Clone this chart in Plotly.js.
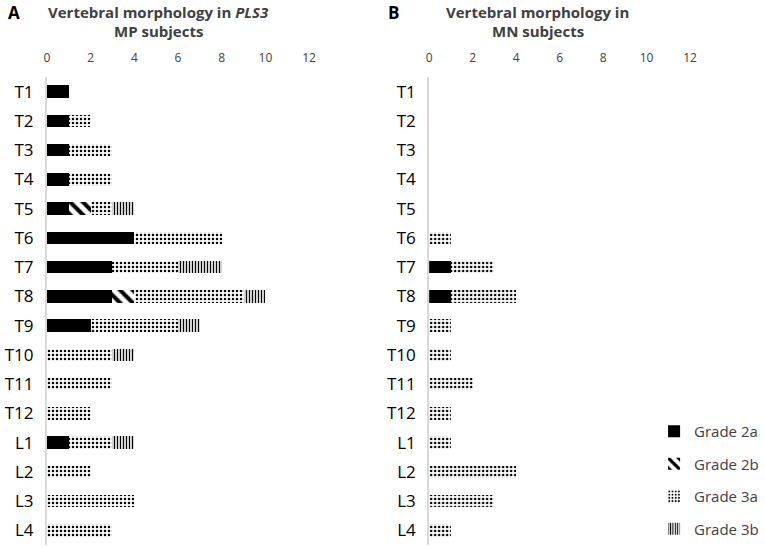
<!DOCTYPE html>
<html>
<head>
<meta charset="utf-8">
<script src="https://cdn.plot.ly/plotly-3.0.1.min.js"></script>
<style>
  html, body { margin: 0; padding: 0; background: #fff; }
  #chart { width: 765px; height: 548px; }
</style>
</head>
<body>
<div id="chart"></div>
<script>
var vertebrae = ['T1', 'T2', 'T3', 'T4', 'T5', 'T6', 'T7', 'T8', 'T9', 'T10', 'T11', 'T12', 'L1', 'L2', 'L3', 'L4'];

// panel A: PLS3 MP subjects
var mp2a = [1, 1, 1, 1, 1, 4, 3, 3, 2, 0, 0, 0, 1, 0, 0, 0];
var mp2b = [0, 0, 0, 0, 1, 0, 0, 1, 0, 0, 0, 0, 0, 0, 0, 0];
var mp3a = [0, 1, 2, 2, 1, 4, 3, 5, 4, 3, 3, 2, 2, 2, 4, 3];
var mp3b = [0, 0, 0, 0, 1, 0, 2, 1, 1, 1, 0, 0, 1, 0, 0, 0];

// panel B: MN subjects
var mn2a = [0, 0, 0, 0, 0, 0, 1, 1, 0, 0, 0, 0, 0, 0, 0, 0];
var mn2b = [0, 0, 0, 0, 0, 0, 0, 0, 0, 0, 0, 0, 0, 0, 0, 0];
var mn3a = [0, 0, 0, 0, 0, 1, 2, 3, 1, 1, 2, 1, 1, 4, 3, 1];
var mn3b = [0, 0, 0, 0, 0, 0, 0, 0, 0, 0, 0, 0, 0, 0, 0, 0];

var gradeNames = ['Grade 2a', 'Grade 2b', 'Grade 3a', 'Grade 3b'];

function gradeMarker(i) {
    if (i == 0) {
        return { color: '#000000', line: { width: 0 } };
    }
    var pat;
    if (i == 1) {
        pat = { shape: '\\', size: 9, solidity: 0.45 };
    } else if (i == 2) {
        pat = { shape: '.', size: 4, solidity: 0.3 };
    } else {
        pat = { shape: '|', size: 3, solidity: 0.45 };
    }
    pat.fgcolor = '#000000';
    pat.bgcolor = '#ffffff';
    pat.fillmode = 'replace';
    return { color: '#ffffff', line: { width: 0 }, pattern: pat };
}

var data = [];
[mp2a, mp2b, mp3a, mp3b].forEach((vals, i) => {
    data.push({
        type: 'bar', orientation: 'h',
        x: vals, y: vertebrae,
        name: gradeNames[i],
        legendgroup: 'g' + i,
        marker: gradeMarker(i),
        xaxis: 'x', yaxis: 'y',
        showlegend: true,
        hoverinfo: 'x+name'
    });
});
[mn2a, mn2b, mn3a, mn3b].forEach((vals, i) => {
    data.push({
        type: 'bar', orientation: 'h',
        x: vals, y: vertebrae,
        name: gradeNames[i],
        legendgroup: 'g' + i,
        marker: gradeMarker(i),
        xaxis: 'x2', yaxis: 'y2',
        showlegend: false,
        hoverinfo: 'x+name'
    });
});

var xAxisBase = {
    range: [0, 12],
    side: 'top',
    dtick: 2,
    showgrid: false,
    zeroline: false,
    showline: false,
    ticks: '',
    ticklabelstandoff: 12,
    tickfont: { size: 12, color: '#404040' },
    fixedrange: true
};
var yAxisBase = {
    type: 'category',
    autorange: 'reversed',
    showgrid: false,
    zeroline: false,
    showline: true,
    linecolor: '#d9d9d9',
    linewidth: 2,
    ticks: '',
    ticklabelstandoff: 8,
    tickfont: { size: 17, color: '#000000' },
    fixedrange: true
};

var titleFont = { family: 'Open Sans, sans-serif', size: 15, color: '#404040' };
var letterFont = { family: 'Open Sans, sans-serif', size: 17, color: '#000000' };

// paper y for a pixel row measured from the top of the picture
function py(px) { return (545 - px) / 468; }

var layout = {
    width: 765,
    height: 548,
    margin: { l: 0, r: 0, t: 77, b: 3, autoexpand: false },
    paper_bgcolor: '#ffffff',
    plot_bgcolor: '#ffffff',
    font: { family: 'Open Sans, sans-serif' },
    barmode: 'stack',
    bargap: 0.58,
    xaxis: Object.assign({}, xAxisBase, { domain: [0.0614, 0.404], anchor: 'y' }),
    yaxis: Object.assign({}, yAxisBase, { anchor: 'x' }),
    xaxis2: Object.assign({}, xAxisBase, { domain: [0.561, 0.902], anchor: 'y2' }),
    yaxis2: Object.assign({}, yAxisBase, { anchor: 'x2' }),
    legend: {
        x: 0.855, y: py(415), xanchor: 'left', yanchor: 'top',
        traceorder: 'grouped',
        font: { size: 15, color: '#404040' },
        tracegroupgap: 10,
        itemwidth: 30
    },
    annotations: [
        { text: '<b>A</b>', xref: 'paper', yref: 'paper', x: 0.008, y: py(12), yanchor: 'middle', xanchor: 'left',
          showarrow: false, font: letterFont },
        { text: '<b>Vertebral morphology in <i>PLS3</i></b>', xref: 'paper', yref: 'paper',
          x: 0.207, y: py(12), yanchor: 'middle', xanchor: 'center',
          showarrow: false, font: titleFont },
        { text: '<b>MP subjects</b>', xref: 'paper', yref: 'paper',
          x: 0.207, y: py(31), yanchor: 'middle', xanchor: 'center',
          showarrow: false, font: titleFont },
        { text: '<b>B</b>', xref: 'paper', yref: 'paper', x: 0.505, y: py(12), yanchor: 'middle', xanchor: 'left',
          showarrow: false, font: letterFont },
        { text: '<b>Vertebral morphology in</b>', xref: 'paper', yref: 'paper',
          x: 0.703, y: py(12), yanchor: 'middle', xanchor: 'center',
          showarrow: false, font: titleFont },
        { text: '<b>MN subjects</b>', xref: 'paper', yref: 'paper',
          x: 0.703, y: py(31), yanchor: 'middle', xanchor: 'center',
          showarrow: false, font: titleFont }
    ]
};

Plotly.newPlot('chart', data, layout, { displayModeBar: false, staticPlot: true });
</script>
</body>
</html>
